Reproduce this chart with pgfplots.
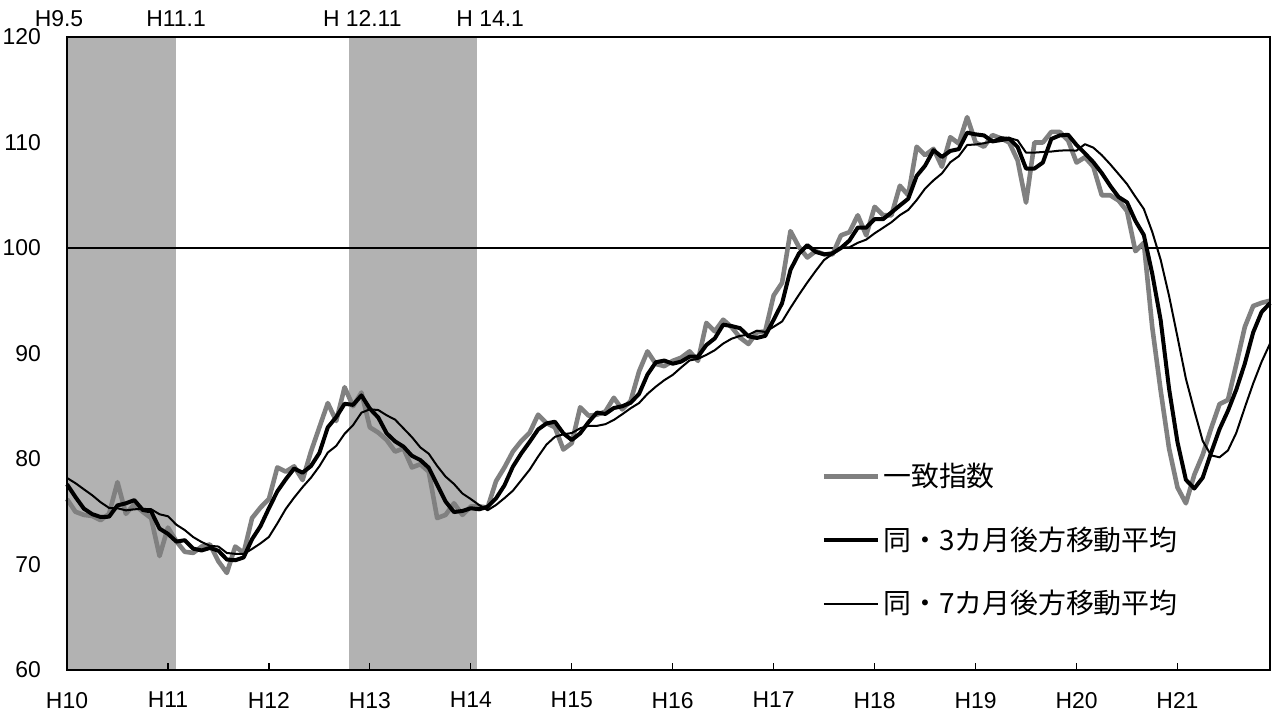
\documentclass[border=0pt]{standalone}
\usepackage{pgfplots}
\usepackage{pgfplotstable}
\pgfplotsset{compat=1.18}
\usepackage{fontspec}
\setmainfont{Liberation Sans}
\newfontfamily\cjk{Noto Sans CJK JP}

% month index (0 = H10.1), coincident index, 3- and 7-month backward moving averages
\pgfplotstableread{
m ci ma3 ma7
0 76.2 77.60 78.20
1 75.0 76.40 77.71
2 74.7 75.30 77.13
3 74.6 74.77 76.56
4 74.2 74.50 75.90
5 74.8 74.53 75.36
6 77.8 75.60 75.33
7 74.8 75.80 75.13
8 75.7 76.10 75.23
9 75.0 75.17 75.27
10 74.4 75.03 75.24
11 70.8 73.40 74.76
12 73.5 72.90 74.57
13 72.2 72.17 73.77
14 71.2 72.30 73.26
15 71.1 71.50 72.60
16 71.7 71.33 72.13
17 71.9 71.57 71.77
18 70.3 71.30 71.70
19 69.2 70.47 71.09
20 71.7 70.40 71.01
21 71.1 70.67 71.00
22 74.4 72.40 71.47
23 75.4 73.63 72.00
24 76.2 75.33 72.61
25 79.2 76.93 73.89
26 78.8 78.07 75.26
27 79.3 79.10 76.34
28 78.0 78.70 77.33
29 80.7 79.33 78.23
30 83.0 80.57 79.31
31 85.3 83.00 80.61
32 83.6 83.97 81.24
33 86.8 85.23 82.39
34 85.0 85.13 83.20
35 86.3 86.03 84.39
36 83.0 84.77 84.71
37 82.5 83.93 84.64
38 81.8 82.43 84.14
39 80.7 81.67 83.73
40 81.0 81.17 82.90
41 79.2 80.30 82.07
42 79.5 79.90 81.10
43 78.8 79.17 80.50
44 74.4 77.57 79.34
45 74.7 75.97 78.33
46 75.8 74.97 77.63
47 74.7 75.07 76.73
48 75.5 75.33 76.20
49 75.5 75.23 75.63
50 75.4 75.47 75.14
51 77.9 76.27 75.64
52 79.2 77.50 76.29
53 80.7 79.27 76.99
54 81.7 80.53 77.99
55 82.5 81.63 78.99
56 84.2 82.80 80.23
57 83.4 83.37 81.37
58 83.0 83.53 82.10
59 80.9 82.43 82.34
60 81.5 81.80 82.46
61 84.9 82.43 82.91
62 84.1 83.50 83.14
63 84.2 84.40 83.14
64 84.5 84.27 83.30
65 85.8 84.83 83.70
66 84.7 85.00 84.24
67 85.5 85.33 84.81
68 88.3 86.17 85.30
69 90.2 88.00 86.17
70 89.0 89.17 86.86
71 88.8 89.33 87.47
72 89.3 89.03 87.97
73 89.6 89.23 88.67
74 90.2 89.70 89.34
75 89.3 89.70 89.49
76 92.9 90.80 89.87
77 92.1 91.43 90.31
78 93.2 92.73 90.94
79 92.5 92.60 91.40
80 91.5 92.40 91.67
81 90.9 91.63 91.77
82 92.0 91.47 92.16
83 92.1 91.67 92.04
84 95.5 93.20 92.53
85 96.7 94.77 93.03
86 101.6 97.93 94.33
87 100.1 99.47 95.56
88 99.1 100.27 96.73
89 99.7 99.63 97.83
90 99.4 99.40 98.87
91 99.4 99.50 99.43
92 101.2 100.00 100.07
93 101.5 100.70 100.06
94 103.1 101.93 100.49
95 101.2 101.93 100.79
96 103.9 102.73 101.39
97 103.1 102.73 101.91
98 103.1 103.37 102.44
99 105.9 104.03 103.11
100 105.0 104.67 103.61
101 109.6 106.83 104.54
102 108.8 107.80 105.63
103 109.4 109.27 106.41
104 107.7 108.63 107.07
105 110.5 109.20 108.13
106 109.9 109.37 108.70
107 112.4 110.93 109.76
108 110.0 110.77 109.81
109 109.6 110.67 109.93
110 110.7 110.10 110.11
111 110.4 110.23 110.50
112 110.0 110.37 110.43
113 108.3 109.57 110.20
114 104.3 107.53 109.04
115 110.0 107.53 109.04
116 110.0 108.10 109.10
117 111.0 110.33 109.14
118 111.0 110.67 109.23
119 110.2 110.73 109.26
120 108.1 109.77 109.23
121 108.6 108.97 109.84
122 107.7 108.13 109.51
123 105.0 107.10 108.80
124 105.0 105.90 107.94
125 104.5 104.83 107.01
126 103.5 104.33 106.06
127 99.7 102.57 104.86
128 100.5 101.23 103.70
129 92.5 97.57 101.53
130 86.5 93.17 98.89
131 81.0 86.67 95.46
132 77.3 81.60 91.57
133 75.8 78.03 87.61
134 78.5 77.20 84.59
135 80.4 78.23 81.71
136 82.9 80.60 80.34
137 85.2 82.83 80.16
138 85.6 84.57 80.81
139 89.0 86.60 82.49
140 92.5 89.03 84.87
141 94.5 92.00 87.16
142 94.8 93.93 89.21
143 95.0 94.77 90.94
}\cidata

\begin{document}
\begin{tikzpicture}
\begin{axis}[
    width=601.5bp, height=316.5bp, scale only axis,
    xmin=0, xmax=143, ymin=60, ymax=120,
    xtick={0,12,...,132},
    xticklabels={H10,H11,H12,H13,H14,H15,H16,H17,H18,H19,H20,H21},
    ytick={60,70,...,120},
    xtick pos=bottom, tick align=inside,
    major tick length=3.5bp,
    x tick style={black, line width=0.6bp},
    y tick style={draw=none},
    axis line style={line width=1.2bp},
    axis on top,
    clip=false,
    tick label style={font=\fontsize{11.5}{13}\selectfont},
    /pgf/number format/assume math mode=true,
    x tick label style={yshift=-7.5bp},
    y tick label style={xshift=-9.5bp},
    legend style={at={(0.622,0.338)}, anchor=north west, draw=none, fill=none,
        font=\cjk\fontsize{14}{16}\selectfont, row sep=15.5bp,
        nodes={inner sep=1.5bp}},
    legend cell align=left,
    legend image code/.code={\draw[#1] (0bp,0bp) -- (27bp,0bp);},
]
% recession bands (H9.5-H11.1, H12.11-H14.1)
\addplot[draw=none, fill=black!30, forget plot] coordinates {(0,60) (0,120) (12.9,120) (12.9,60)} -- cycle;
\addplot[draw=none, fill=black!30, forget plot] coordinates {(33.55,60) (33.55,120) (48.7,120) (48.7,60)} -- cycle;
\addplot[black, line width=0.7bp, forget plot] coordinates {(0,100) (143,100)};

\addplot[black!50, line width=2.3bp, line join=round] table[x=m, y=ci] {\cidata};
\addlegendentry{一致指数}
\addplot[black, line width=2bp, line join=round] table[x=m, y=ma3] {\cidata};
\addlegendentry{同・3カ月後方移動平均}
\addplot[black, line width=1bp, line join=round] table[x=m, y=ma7] {\cidata};
\addlegendentry{同・7カ月後方移動平均}

\node[anchor=base, font=\fontsize{11.5}{13}\selectfont] at ([yshift=5bp]axis cs:-0.95,120) {H9.5};
\node[anchor=base, font=\fontsize{11.5}{13}\selectfont] at ([yshift=5bp]axis cs:12.96,120) {H11.1};
\node[anchor=base, font=\fontsize{11.5}{13}\selectfont] at ([yshift=5bp]axis cs:35.1,120) {H 12.11};
\node[anchor=base, font=\fontsize{11.5}{13}\selectfont] at ([yshift=5bp]axis cs:50.3,120) {H 14.1};
\end{axis}
\pgfresetboundingbox
\path[use as bounding box] ([shift={(-33.5bp,-25bp)}]current axis.south west) rectangle ([shift={(2bp,18.5bp)}]current axis.north east);
\end{tikzpicture}
\end{document}
